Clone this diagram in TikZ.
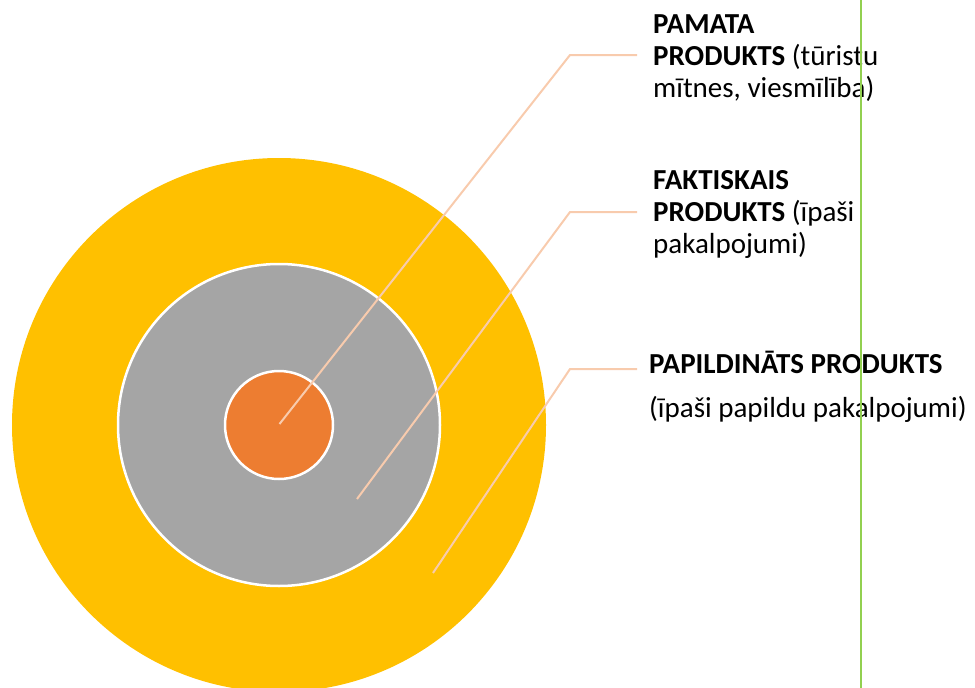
\documentclass[tikz,border=0pt]{standalone}
\usepackage{fontspec}
\setmainfont{Carlito}
\definecolor{outerring}{HTML}{FFC000}
\definecolor{midring}{HTML}{A5A5A5}
\definecolor{core}{HTML}{ED7D31}
\definecolor{leadcol}{HTML}{F8CBAD}
\definecolor{rulecol}{HTML}{92D050}
\begin{document}
\begin{tikzpicture}[x=1pt,y=-1pt,
    ring/.style={draw=white, line width=2.5pt},
    leader/.style={draw=leadcol, line width=2pt},
    label/.style={anchor=north west, inner sep=0pt, align=left,
      font=\fontsize{29}{32}\selectfont}]
  \useasboundingbox (0,0) rectangle (975,688);
  \clip (0,0) rectangle (975,688);

  % the three rings
  \coordinate (c) at (279,425);
  \fill[outerring] (c) circle [radius=267pt];
  \draw[ring, fill=midring] (c) circle [radius=161pt];
  \draw[ring, fill=core] (c) circle [radius=54pt];

  % leader lines
  \coordinate (p1) at (279.5,424);
  \coordinate (b1) at (570,55);
  \coordinate (e1) at (637,55);
  \coordinate (p2) at (357,499);
  \coordinate (b2) at (570,212);
  \coordinate (e2) at (637,212);
  \coordinate (p3) at (433,573);
  \coordinate (b3) at (570,369);
  \coordinate (e3) at (637,369);
  \draw[leader] (p1) -- (b1) -- (e1);
  \draw[leader] (p2) -- (b2) -- (e2);
  \draw[leader] (p3) -- (b3) -- (e3);

  % labels
  \node[label] (pamata) at (653,14)
    {\textbf{PAMATA}\\\textbf{PRODUKTS} (tūristu\\mītnes, viesmīlība)};
  \node[label] (fakt) at (653,170)
    {\textbf{FAKTISKAIS}\\\textbf{PRODUKTS} (īpaši\\pakalpojumi)};
  \node[label] (papild) at (649,351)
    {\textbf{PAPILDINĀTS PRODUKTS}\\[12pt](īpaši papildu pakalpojumi)};

  % green rule
  \draw[rulecol, line width=2pt] (860.5,0) -- (860.5,688);
\end{tikzpicture}
\end{document}
